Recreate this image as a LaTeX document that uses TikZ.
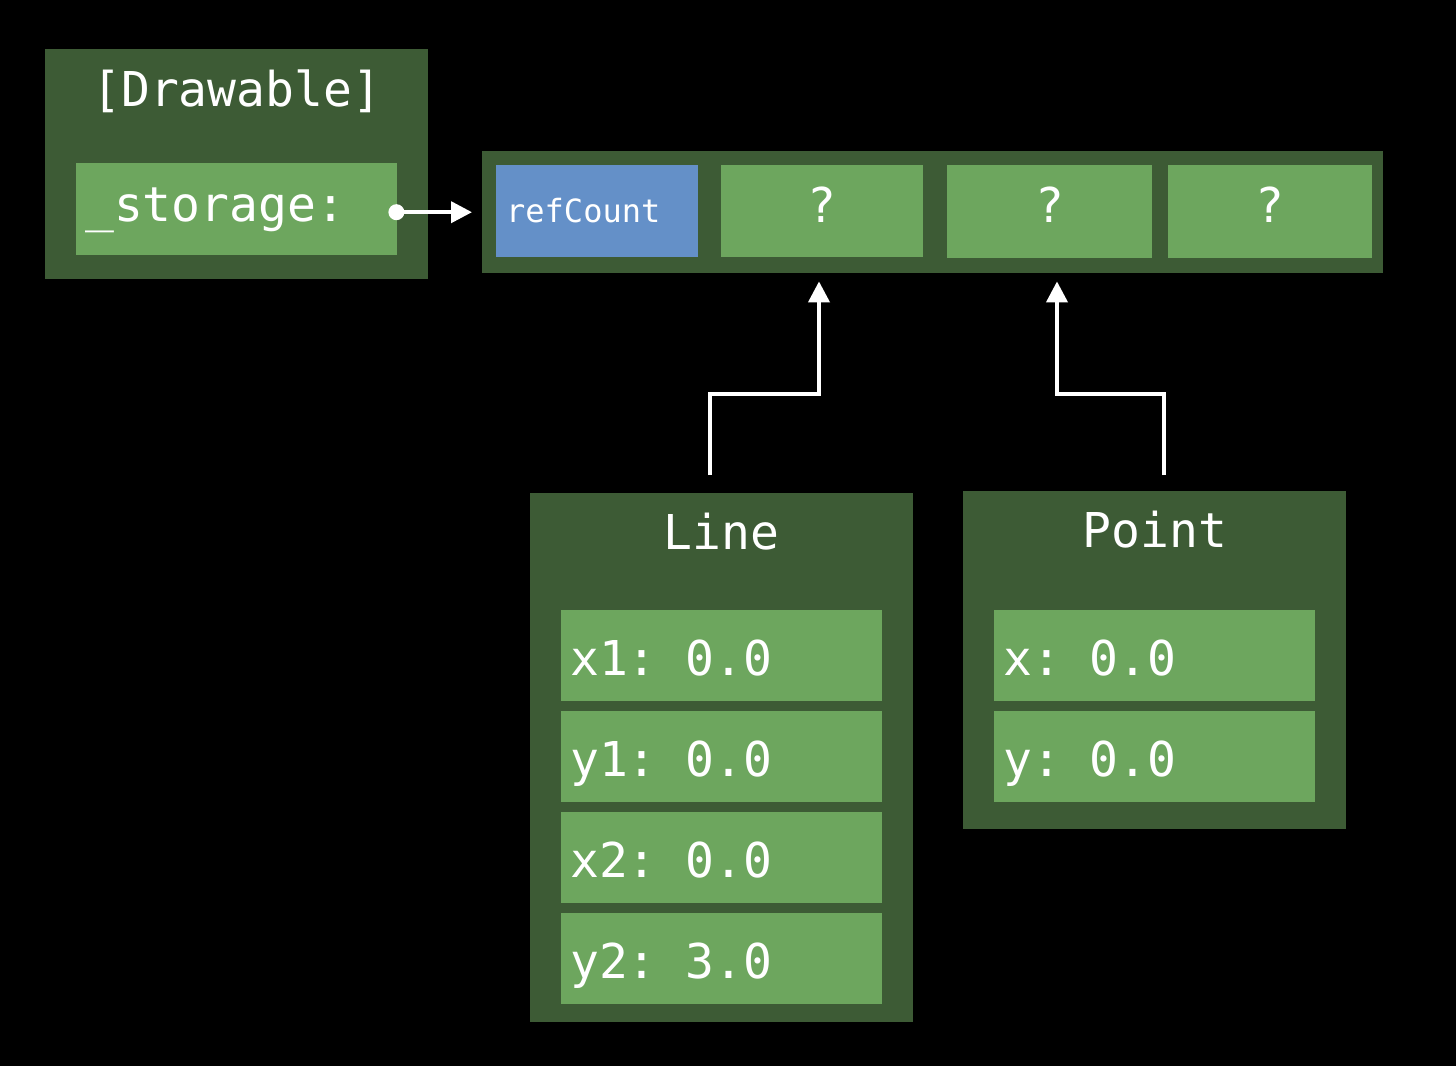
\documentclass[tikz,border=0pt]{standalone}
\usepackage{fontspec}
\setmonofont{DejaVu Sans Mono}
\usetikzlibrary{arrows.meta,calc}

\definecolor{boxdark}{HTML}{3D5B35}
\definecolor{boxlight}{HTML}{6DA65E}
\definecolor{boxblue}{HTML}{6490C8}

\tikzset{
  outerbox/.style={fill=boxdark, draw=none, inner sep=0pt, anchor=north west},
  fieldbox/.style={fill=boxlight, draw=none, inner sep=0pt, anchor=north west},
  bigtext/.style={text=white, inner sep=0pt, font=\ttfamily\fontsize{48}{58}\selectfont},
  smalltext/.style={text=white, inner sep=0pt, font=\ttfamily\fontsize{32}{38}\selectfont},
  ptr/.style={draw=white, line width=4pt, -{Triangle[length=21pt,width=21pt]}}
}

% name, x, y, width, height
\newcommand{\fieldBox}[5]{%
  \node[fieldbox, minimum width=#4pt, minimum height=#5pt] (#1) at (#2, #3) {};%
}

\begin{document}
\begin{tikzpicture}[x=1pt, y=-1pt]
  \fill[black] (0, 0) rectangle (1456, 1066);
  \useasboundingbox (0, 0) rectangle (1456, 1066);

  % existential container
  \node[outerbox, minimum width=383pt, minimum height=230pt] (drawable) at (45, 49) {};
  \node[bigtext, anchor=base] (drawtitle) at ($(drawable.north)+(0, 57)$) {[Drawable]};
  \fieldBox{storage}{76}{163}{321}{92}
  \node[bigtext, anchor=base west] (storagetext) at ($(storage.west)+(9, 12)$) {\_storage:};

  % heap buffer cells
  \foreach \name/\x/\w in {cell0/482/226, cell1/708/225, cell2/933/224, cell3/1157/226}
    \node[outerbox, minimum width=\w pt, minimum height=122pt] (\name) at (\x, 151) {};

  \node[fieldbox, fill=boxblue, minimum width=202pt, minimum height=92pt] (refcount) at (496, 165) {};
  \node[smalltext, anchor=base west] (refcounttext) at ($(refcount.west)+(10, 11)$) {refCount};
  \fieldBox{q1}{721}{165}{202}{92}
  \fieldBox{q2}{947}{165}{205}{93}
  \fieldBox{q3}{1168}{165}{204}{93}
  \foreach \q in {q1, q2, q3}
    \node[bigtext, anchor=base] at ($(\q.center)+(0, 11)$) {?};

  % Line value
  \node[outerbox, minimum width=383pt, minimum height=529pt] (line) at (530, 493) {};
  \node[bigtext, anchor=base] (linetitle) at ($(line.north)+(0, 56)$) {Line};
  \foreach \name/\y/\txt in {lx1/610/{x1: 0.0}, ly1/711/{y1: 0.0}, lx2/812/{x2: 0.0}, ly2/913/{y2: 3.0}} {
    \fieldBox{\name}{561}{\y}{321}{91}
    \node[bigtext, anchor=base west] at ($(\name.west)+(9, 20)$) {\txt};
  }

  % Point value
  \node[outerbox, minimum width=383pt, minimum height=338pt] (point) at (963, 491) {};
  \node[bigtext, anchor=base] (pointtitle) at ($(point.north)+(0, 56)$) {Point};
  \foreach \name/\y/\txt in {px/610/{x: 0.0}, py/711/{y: 0.0}} {
    \fieldBox{\name}{994}{\y}{321}{91}
    \node[bigtext, anchor=base west] at ($(\name.west)+(9, 20)$) {\txt};
  }

  % pointers
  \coordinate (storagedot) at ($(storage.east)+(-1, 3)$);
  \fill[white] (storagedot) circle (8);
  \draw[ptr, shorten >=10pt] (storagedot) -- (storagedot -| cell0.west);

  \coordinate (lineptr) at (710, 475);
  \coordinate (lineknee) at (819, 394);
  \draw[ptr, shorten >=8pt] (lineptr) |- (lineknee) -- (lineknee |- cell1.south);

  \coordinate (pointptr) at (1164, 475);
  \coordinate (pointknee) at (1057, 394);
  \draw[ptr, shorten >=8pt] (pointptr) |- (pointknee) -- (pointknee |- cell2.south);
\end{tikzpicture}
\end{document}
